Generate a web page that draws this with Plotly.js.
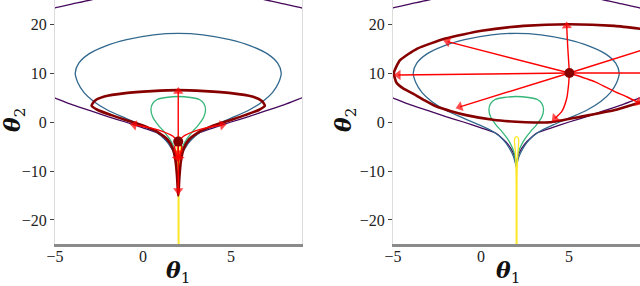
<!DOCTYPE html>
<html>
<head>
<meta charset="utf-8">
<script src="https://cdn.plot.ly/plotly-3.0.1.min.js"></script>
<style>html,body{margin:0;padding:0;background:#fff}#chart{width:640px;height:286px}</style>
</head>
<body>
<div id="chart"></div>
<script>
// ---- tick labels ----
const xTicks = [-5, 0, 5];
const yTicks = [-20, -10, 0, 10, 20];

// ---- density contours, shared by both panels ----
const purpleLowX = [-5.5, -5, -4, -3, -2, -1, 0, 0.85, 1.5, 1.84, 1.96, 2.0, 2.04, 2.16, 2.5, 3.15, 4, 5, 6, 7, 8, 9, 9.5];
const purpleLowY = [5.6, 4.9, 3.5, 2.3, 1.1, 0.0, -1.2, -2.3, -4.4, -6.4, -8.0, -9.3, -8.0, -6.4, -4.4, -2.3, -1.2, 0.0, 1.1, 2.3, 3.5, 4.9, 5.6];
const purpleTopX = [-5.5, -5, -4, -3, -2, 2, 6, 7, 8, 9, 9.5];
const purpleTopY = [22.7, 23.3, 24.1, 24.9, 25.6, 26.3, 25.6, 24.9, 24.1, 23.3, 22.7];
const blueX = [2, 0.6, -0.93, -2.14, -3.07, -3.65, -3.85, -3.7, -3.35, -2.8, -2.0, -1.0, -0.1, 0.7, 1.25, 1.6, 1.85, 2.0,
               2.15, 2.4, 2.75, 3.3, 4.1, 5.0, 6.0, 6.8, 7.35, 7.7, 7.85, 7.65, 7.07, 6.14, 4.93, 3.4, 2];
const blueY = [18.1, 17.8, 16.8, 15.5, 13.9, 12.0, 10, 8.0, 6.0, 4.2, 2.4, 0.8, -0.6, -2.0, -3.6, -5.3, -7.1, -8.9,
               -7.1, -5.3, -3.6, -2.0, -0.6, 0.8, 2.4, 4.2, 6.0, 8.0, 10, 12.0, 13.9, 15.5, 16.8, 17.8, 18.1];
const greenX = [2, 1.3, 0.8, 0.55, 0.45, 0.55, 0.85, 1.2, 1.5, 1.75, 1.9, 2.0, 2.1, 2.25, 2.5, 2.8, 3.15, 3.45, 3.55, 3.45, 3.2, 2.7, 2];
const greenY = [5.2, 5.0, 4.6, 3.8, 2.5, 1.0, -0.6, -2.0, -3.4, -5.0, -6.5, -8.8, -6.5, -5.0, -3.4, -2.0, -0.6, 1.0, 2.5, 3.8, 4.6, 5.0, 5.2];
const yellowX = [2.0, 1.99, 1.95, 1.9, 1.92, 2.02, 2.12, 2.14, 2.1, 2.05, 2.04];
const yellowY = [-25, -10, -6, -4, -3.3, -3.0, -3.3, -4, -6, -10, -25];

// ---- left panel: region boundary, centre and geodesics ----
const leftRegionX = [-2.92, -2.75, -2.2, -1, 0.5, 2, 3.5, 5, 6.2, 6.75, 6.92, 6.6, 5.8, 4.8, 3.8, 3.1, 2.6, 2.3, 2.15, 2.07, 2.03, 2.0,
                     1.97, 1.93, 1.85, 1.7, 1.4, 0.9, 0.2, -0.8, -1.8, -2.6, -2.92];
const leftRegionY = [3.3, 4.3, 5.2, 5.9, 6.3, 6.5, 6.3, 5.9, 5.2, 4.3, 3.3, 2.5, 1.4, 0.2, -1.0, -2.2, -3.6, -5.5, -8, -11, -13.5, -15.0,
                     -13.5, -11, -8, -5.5, -3.6, -2.2, -1.0, 0.2, 1.4, 2.5, 3.3];
const leftCentre = [2, -4];
const leftArrowsX = [[2, 2], [2, 2], [2, 1.8, 1.85, 1.95], [2, 2.2, 2.15, 2.05], [2, 1.7, 1.1, 0.3, -0.5], [2, 2.3, 2.9, 3.7, 4.5], [2, 2]];
const leftArrowsY = [[-4, 6.2], [-4, -14], [-4, -5, -6.2, -7.3], [-4, -5, -6.2, -7.3], [-4, -2.9, -1.9, -1.1, -0.6], [-4, -2.9, -1.9, -1.1, -0.6], [-4, -6.3]];

// ---- right panel: region boundary, centre and geodesics ----
const rightRegionX = [9.98, 7.58, 5, 2.42, 0.03, -2.03, -3.62, -4.61, -4.95, -4.8, -4.4, -3.86, -3.2, -2.56, -1.7, -0.85, 0.68, 2.0, 3.0, 3.9, 5.7, 7.6, 9.03, 10];
const rightRegionY = [18.62, 19.61, 19.95, 19.61, 18.62, 17.03, 14.98, 12.58, 10, 8.0, 6.8, 5.8, 4.4, 3.2, 2.2, 1.4, 0.45, 0.05, -0.1, -0.05, 1.1, 2.45, 4.0, 5.0];
const rightCentre = [5.02, 10];
const rightArrowsX = [[5.02, 4.93, 4.88, 4.87], [5.02, 4.97, 4.87, 4.58, 4.2], [5.02, -4.7], [5.02, -1.9], [5.02, -1.2], [5.02, 9.6], [5.02, 9.6], [5.02, 6.48, 7.6, 8.3, 8.94]];
const rightArrowsY = [[10, 15, 18.5, 19.6], [10, 7.5, 4.84, 2.1, 0.76], [10, 9.6], [10, 16.4], [10, 3.1], [10, 10.0], [10, 15.2], [10, 8.2, 6.2, 5.1, 4.0]];
const rightHeadless = [false, false, false, false, false, true, true, false];

const C_PURPLE = '#46085c', C_BLUE = '#31688e', C_GREEN = '#35b779', C_YELLOW = '#fde725', C_DARK = '#870000', C_RED = '#ff0000';

const traces = [];
function contourSet(xa, ya) {
  const common = {mode: 'lines', hoverinfo: 'skip', showlegend: false, xaxis: xa, yaxis: ya};
  traces.push({...common, x: purpleTopX, y: purpleTopY, line: {color: C_PURPLE, width: 1.3, shape: 'spline', smoothing: 0.8}});
  traces.push({...common, x: purpleLowX, y: purpleLowY, line: {color: C_PURPLE, width: 1.3, shape: 'spline', smoothing: 0.6}});
  traces.push({...common, x: blueX, y: blueY, line: {color: C_BLUE, width: 1.3, shape: 'spline', smoothing: 0.7}});
  traces.push({...common, x: greenX, y: greenY, line: {color: C_GREEN, width: 1.3, shape: 'spline', smoothing: 0.6}});
  traces.push({...common, x: yellowX, y: yellowY, line: {color: C_YELLOW, width: 1.3, shape: 'spline', smoothing: 0.6}});
}
function arrows(ax, ay, xa, ya, headless) {
  for (let i = 0; i < ax.length; i++) {
    const n = ax[i].length;
    const sizes = ax[i].map((v, k) => (k === n - 1 && !(headless && headless[i])) ? 9 : 0);
    traces.push({x: ax[i], y: ay[i], xaxis: xa, yaxis: ya, mode: 'lines+markers', hoverinfo: 'skip', showlegend: false,
      line: {color: C_RED, width: 1.4, shape: 'spline', smoothing: 0.6},
      marker: {symbol: 'triangle-up', size: sizes, color: C_RED, angleref: 'previous', line: {width: 0}}});
  }
}

// left panel
contourSet('x', 'y');
traces.push({x: leftRegionX, y: leftRegionY, xaxis: 'x', yaxis: 'y', mode: 'lines', hoverinfo: 'skip', showlegend: false,
  line: {color: C_DARK, width: 2.6, shape: 'spline', smoothing: 0.6}});
arrows(leftArrowsX, leftArrowsY, 'x', 'y');
traces.push({x: [leftCentre[0]], y: [leftCentre[1]], xaxis: 'x', yaxis: 'y', mode: 'markers', hoverinfo: 'skip', showlegend: false,
  marker: {color: C_DARK, size: 10}});

// right panel
contourSet('x2', 'y2');
traces.push({x: rightRegionX, y: rightRegionY, xaxis: 'x2', yaxis: 'y2', mode: 'lines', hoverinfo: 'skip', showlegend: false,
  line: {color: C_DARK, width: 2.6, shape: 'spline', smoothing: 0.5}});
arrows(rightArrowsX, rightArrowsY, 'x2', 'y2', rightHeadless);
traces.push({x: [rightCentre[0]], y: [rightCentre[1]], xaxis: 'x2', yaxis: 'y2', mode: 'markers', hoverinfo: 'skip', showlegend: false,
  marker: {color: C_DARK, size: 10}});

const tickFont = {family: 'Liberation Serif', size: 16, color: '#222'};
function xAxis(domain, anchor) {
  return {domain: domain, anchor: anchor, range: [-5, 9.03], tickvals: xTicks, ticks: '', ticklabelstandoff: -4, showgrid: false, zeroline: false,
    showline: true, linecolor: '#8a8a8a', linewidth: 2.5, tickfont: tickFont, fixedrange: true};
}
function yAxis(anchor) {
  return {domain: [0, 1], anchor: anchor, range: [-24.9, 24.9], tickvals: yTicks, ticks: 'outside', ticklen: 4, tickwidth: 1,
    tickcolor: '#444', showgrid: false, zeroline: false, showline: true, mirror: true, linecolor: '#dcdcdc', linewidth: 1,
    tickfont: tickFont, fixedrange: true};
}
const titleFont = {family: 'DejaVu Serif', size: 22, color: '#111'};
const th1 = '<b><i>θ</i></b><sub>1</sub>';
const th2 = '<b><i>θ</i></b><sub>2</sub>';
const layout = {
  width: 640, height: 286,
  margin: {l: 0, r: 0, t: 0, b: 42, pad: 0},
  paper_bgcolor: '#fff', plot_bgcolor: '#fff',
  showlegend: false,
  xaxis: xAxis([55 / 640, 302 / 640], 'y'),
  yaxis: yAxis('x'),
  xaxis2: xAxis([393 / 640, 1], 'y2'),
  yaxis2: yAxis('x2'),
  annotations: [
    {text: th1, xref: 'paper', yref: 'paper', x: 178 / 640, y: -(272 - 244) / 244, showarrow: false, font: titleFont, xanchor: 'center', yanchor: 'middle'},
    {text: th1, xref: 'paper', yref: 'paper', x: 508 / 640, y: -(272 - 244) / 244, showarrow: false, font: titleFont, xanchor: 'center', yanchor: 'middle'},
    {text: th2, xref: 'paper', yref: 'paper', x: 14 / 640, y: (244 - 120) / 244, showarrow: false, font: titleFont, textangle: -90, xanchor: 'center', yanchor: 'middle'},
    {text: th2, xref: 'paper', yref: 'paper', x: 345 / 640, y: (244 - 120) / 244, showarrow: false, font: titleFont, textangle: -90, xanchor: 'center', yanchor: 'middle'}
  ]
};
Plotly.newPlot('chart', traces, layout, {staticPlot: true, displayModeBar: false});
</script>
</body>
</html>
